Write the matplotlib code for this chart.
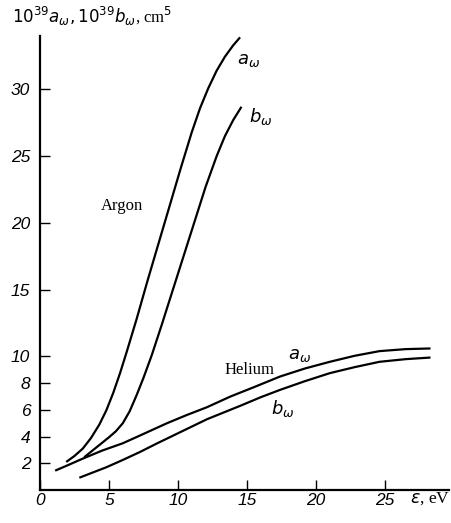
import matplotlib
matplotlib.use("Agg")
import matplotlib.pyplot as plt

# Data
argon_a_x = [1.9, 2.5, 3.1, 3.7, 4.3, 4.8, 5.3, 5.8, 6.3, 7.0, 7.8, 8.6, 9.4, 10.2, 11.0, 11.6, 12.2, 12.8, 13.4, 14.0, 14.5]
argon_a_y = [2.1, 2.55, 3.1, 3.9, 4.9, 5.95, 7.25, 8.75, 10.4, 12.8, 15.7, 18.5, 21.3, 24.1, 26.8, 28.6, 30.1, 31.4, 32.45, 33.3, 33.9]

argon_b_x = [3.2, 3.8, 4.4, 5.0, 5.5, 6.0, 6.5, 7.0, 7.5, 8.1, 8.8, 9.6, 10.4, 11.2, 12.0, 12.8, 13.4, 14.0, 14.6]
argon_b_y = [2.45, 2.95, 3.45, 3.95, 4.4, 5.0, 5.9, 7.1, 8.4, 10.1, 12.3, 14.9, 17.5, 20.1, 22.7, 25.0, 26.5, 27.7, 28.7]

helium_a_x = [1.1, 2.0, 3.1, 4.5, 6.0, 7.5, 9.2, 10.6, 12.1, 13.8, 15.5, 17.4, 19.2, 21.0, 22.8, 24.6, 26.5, 28.3]
helium_a_y = [1.45, 1.85, 2.35, 2.95, 3.5, 4.2, 5.0, 5.6, 6.2, 7.0, 7.7, 8.5, 9.1, 9.6, 10.05, 10.4, 10.55, 10.6]

helium_b_x = [2.85, 4.8, 6.0, 7.25, 8.5, 9.7, 10.9, 12.1, 13.3, 14.5, 16.0, 17.4, 19.2, 21.0, 22.8, 24.6, 26.5, 28.3]
helium_b_y = [0.92, 1.7, 2.25, 2.85, 3.5, 4.1, 4.7, 5.3, 5.8, 6.3, 6.95, 7.5, 8.15, 8.75, 9.2, 9.6, 9.8, 9.92]

x_ticks = [0, 5, 10, 15, 20, 25]
y_ticks = [2, 4, 6, 8, 10, 15, 20, 25, 30]

plt.rcParams['mathtext.fontset'] = 'dejavusans'

W, H = 451, 523
fig = plt.figure(figsize=(W / 100, H / 100), dpi=100)
ax = fig.add_axes([40 / W, 33 / H, 409 / W, 454 / H])

lw = 1.6
for xs, ys in [(argon_a_x, argon_a_y), (argon_b_x, argon_b_y),
               (helium_a_x, helium_a_y), (helium_b_x, helium_b_y)]:
    ax.plot(xs, ys, color='black', lw=lw, solid_capstyle='butt', solid_joinstyle='round')

ax.set_xlim(0, 29.64)
ax.set_ylim(0, 34)
for s in ['top', 'right']:
    ax.spines[s].set_visible(False)
for s in ['left', 'bottom']:
    ax.spines[s].set_linewidth(1.6)

tick_font = dict(fontfamily='Liberation Sans', fontstyle='italic', fontsize=12.5)
ax.set_xticks(x_ticks)
ax.set_yticks(y_ticks)
ax.set_xticklabels([str(t) for t in x_ticks], **tick_font)
ax.set_yticklabels([str(t) for t in y_ticks], **tick_font)
ax.tick_params(axis='both', direction='in', length=7, width=1.0)
ax.tick_params(axis='x', pad=2)
ax.tick_params(axis='y', pad=7)

serif = 'Liberation Serif'
ax.text(5.94, 21.3, 'Argon', fontfamily=serif, fontsize=12, ha='center', va='center')
ax.text(15.2, 9.0, 'Helium', fontfamily=serif, fontsize=12, ha='center', va='center')
ax.text(15.1, 32.2, r'$a_\omega$', fontsize=13, ha='center', va='center')
ax.text(16.0, 28.0, r'$b_\omega$', fontsize=13, ha='center', va='center')
ax.text(18.8, 10.1, r'$a_\omega$', fontsize=13, ha='center', va='center')
ax.text(17.6, 6.1, r'$b_\omega$', fontsize=13, ha='center', va='center')

ax.text(26.8, -0.65, r'$\varepsilon$, eV', fontfamily=serif, fontsize=12.5, ha='left', va='center',
        clip_on=False)

fig.text(12 / W, 1 - 23 / H,
         r'$\mathit{10}^{39}a_\omega,\mathit{10}^{39}b_\omega$, cm$^5$',
         fontfamily=serif, fontsize=12, ha='left', va='baseline')

fig.savefig('out.png', dpi=100)
